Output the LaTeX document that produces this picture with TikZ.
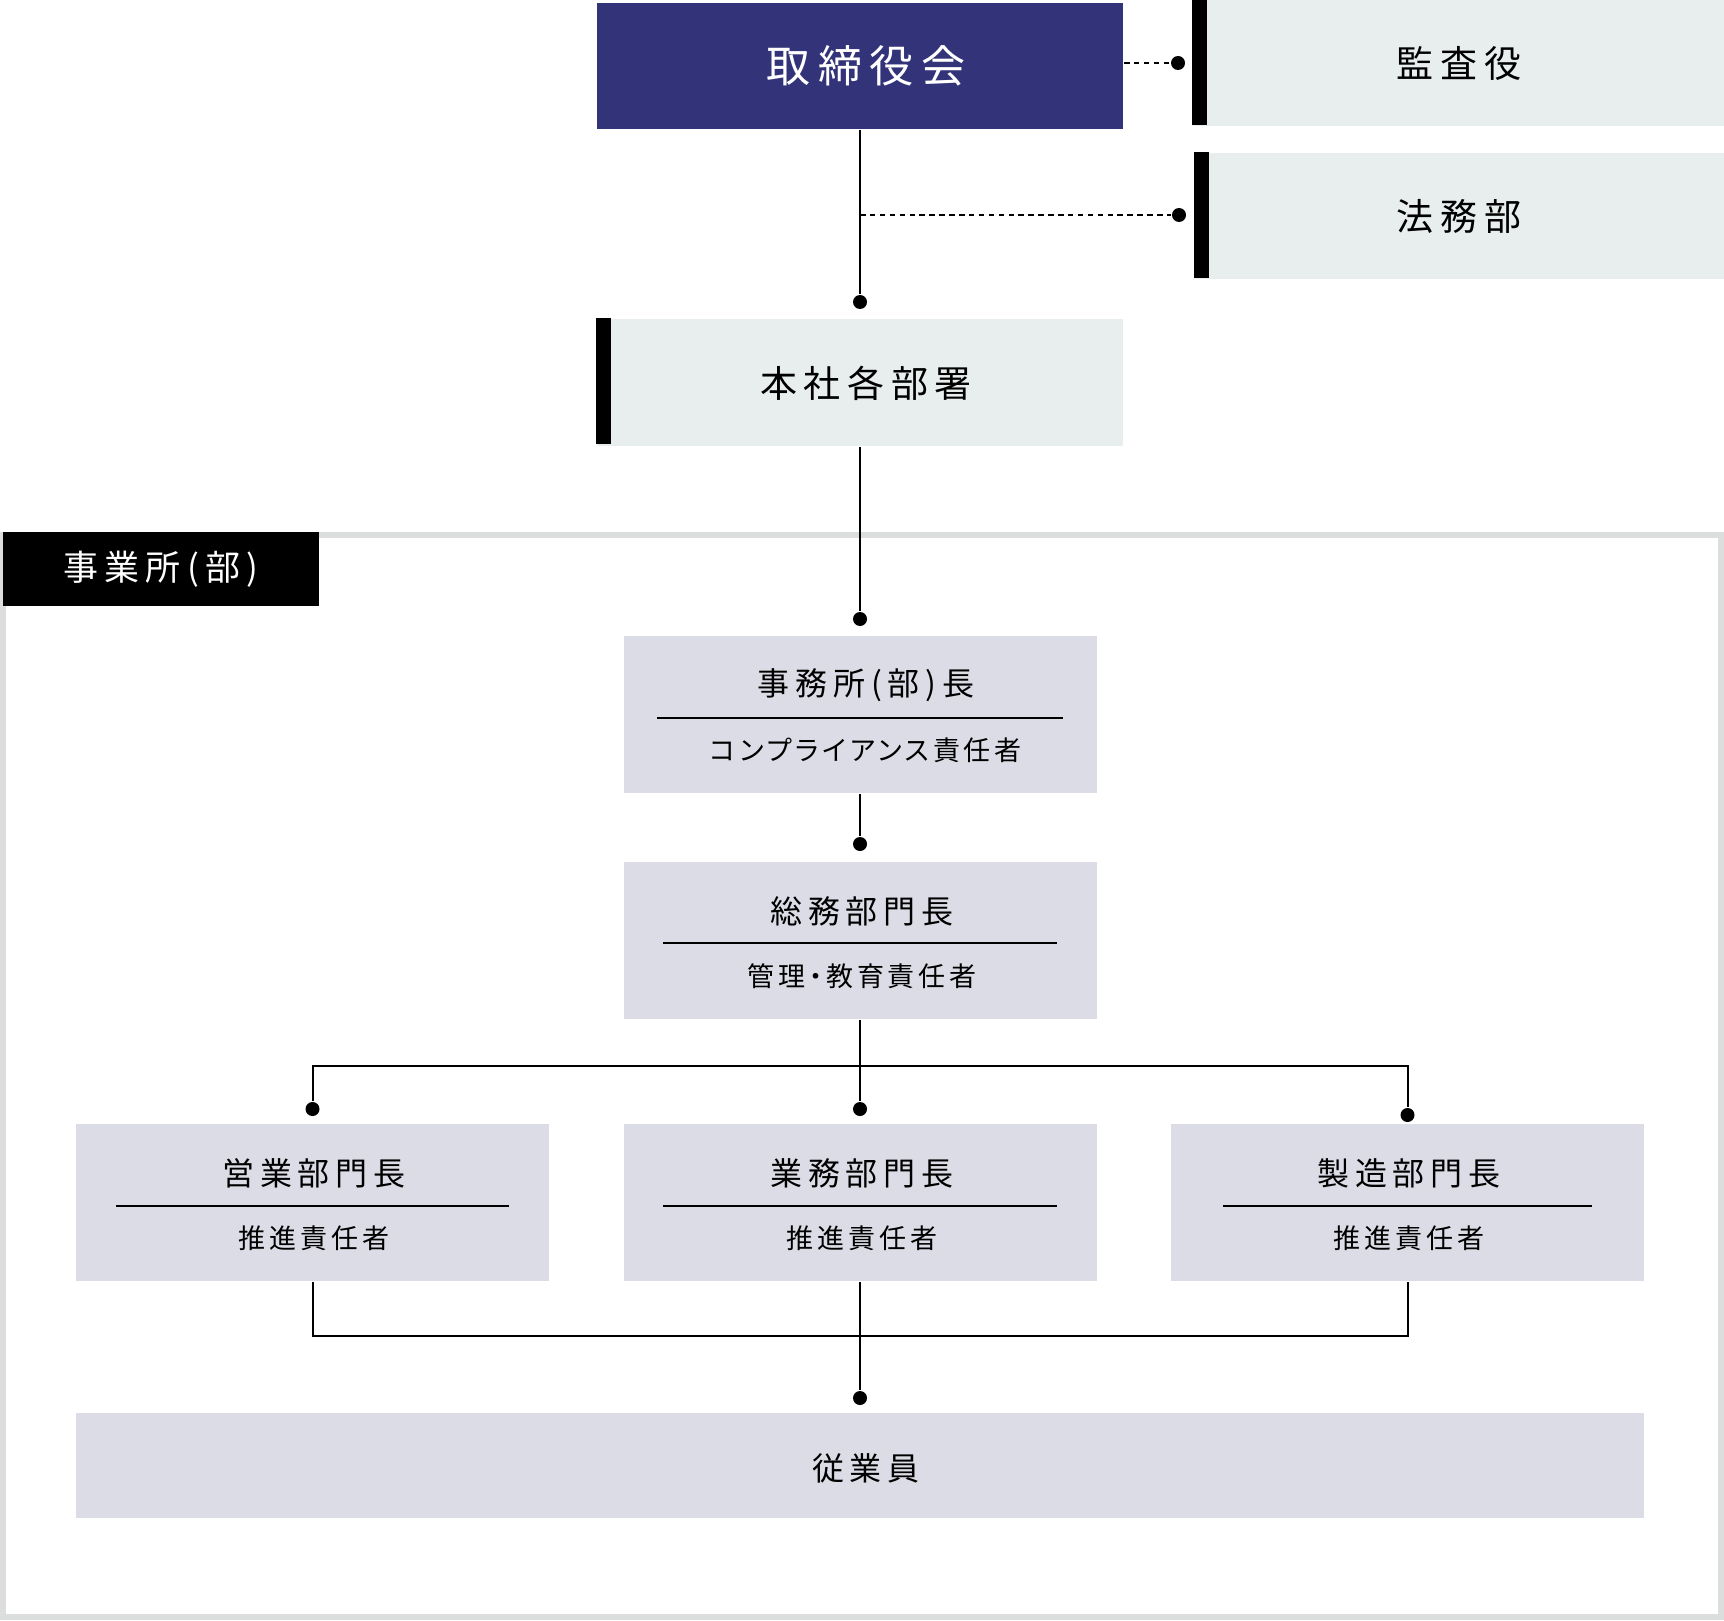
\documentclass[tikz,border=0pt]{standalone}
\usepackage{fontspec}
\newfontfamily\jp[LetterSpace=18,RawFeature=+palt]{Noto Sans CJK JP}
\newfontfamily\jpsub[LetterSpace=14,RawFeature=+palt]{Noto Sans CJK JP}
\usepackage{xcolor}
\usepackage{tikz}
\definecolor{navy}{HTML}{33337A}
\definecolor{palegray}{HTML}{E8EDED}
\definecolor{lilac}{HTML}{DCDCE6}
\definecolor{framegray}{HTML}{DCDEDD}

\begin{document}
\begin{tikzpicture}[x=0.5pt, y=-0.5pt, line width=1pt,
  board/.style={fill=navy, text=white, inner sep=0pt, minimum width=263pt, minimum height=63pt},
  side/.style={fill=palegray, inner sep=0pt, minimum width=265.5pt, minimum height=63pt},
  tag/.style={fill=black, text=white, inner sep=0pt, minimum width=158pt, minimum height=37pt, font=\jp\fontsize{17.5pt}{21pt}\selectfont},
  unit/.style={fill=lilac, inner sep=0pt, minimum width=236.5pt, minimum height=78.5pt},
  title/.style={inner sep=0pt, font=\jp\fontsize{16pt}{19pt}\selectfont},
  big/.style={inner sep=0pt, font=\jp\fontsize{22pt}{26pt}\selectfont},
  mid/.style={inner sep=0pt, font=\jp\fontsize{18.5pt}{22pt}\selectfont},
  sub/.style={inner sep=0pt, font=\jpsub\fontsize{13.5pt}{16pt}\selectfont},
  dot/.style={circle, fill=black, inner sep=0pt, minimum size=7pt},
  dashlink/.style={dash pattern=on 2.75pt off 2.2pt}]
\useasboundingbox (0,0) rectangle (1724,1621);

% top
\node[board] (board) at (860,66) {};
\node[big, text=white] (boardt) at (866,66) {取締役会};
\node[side] (kansa) at (1458.5,63) {};
\node[mid] (kansat) at (1459,63) {監査役};
\node[side, minimum width=264.5pt] (houmu) at (1459.5,216) {};
\node[mid] (houmut) at (1459,216) {法務部};
\node[side, minimum width=263pt] (honsha) at (860,382.5) {};
\node[mid] (honshat) at (866,383) {本社各部署};
\fill (kansa.north west) rectangle ++(15,126);
\fill (houmu.north west) rectangle ++(15,126);
\fill (honsha.north west) rectangle ++(15,125);

\node[dot] (dk) at (1178,63) {};
\node[dot] (dh) at (1179,215) {};
\node[dot] (d1) at (860,302) {};
\draw[dashlink] (board.east |- dk) -- (dk);
\draw (board) -- (d1);
\draw[dashlink] (d1 |- dh) -- (dh);

% office frame
\draw[framegray, line width=3pt] (3,535) rectangle (1721,1617);
\node[tag] (office) at (161,569) {事業所(部)};

\node[unit] (chief) at (860,714.5) {};
\node[title] (chieft) at (866,685) {事務所(部)長};
\node[sub] (chiefs) at (866,750) {コンプライアンス責任者};
\draw (657,718) -- (1063,718);

\node[unit] (soumu) at (860,940.5) {};
\node[title] (soumut) at (862,911) {総務部門長};
\node[sub] (soumus) at (862,976) {管理・教育責任者};
\draw (663,943) -- (1057,943);

\node[unit] (sales) at (312.5,1202.5) {};
\node[title] (salest) at (314,1173) {営業部門長};
\node[sub] (saless) at (314,1238) {推進責任者};
\draw (116,1206) -- (509,1206);

\node[unit] (ops) at (860,1202.5) {};
\node[title] (opst) at (862,1173) {業務部門長};
\node[sub] (opss) at (862,1238) {推進責任者};
\draw (663,1206) -- (1057,1206);

\node[unit] (maker) at (1407.5,1202.5) {};
\node[title] (makert) at (1409,1173) {製造部門長};
\node[sub] (makers) at (1409,1238) {推進責任者};
\draw (1223,1206) -- (1592,1206);

\node[unit, minimum width=784pt, minimum height=52.5pt] (staff) at (860,1465.5) {};
\node[title] (stafft) at (866,1468) {従業員};

% connectors
\node[dot] (d2) at (860,619) {};
\node[dot] (d3) at (860,844) {};
\node[dot] (ds) at (312.5,1109) {};
\node[dot] (dg) at (860,1109) {};
\node[dot] (dz) at (1407.5,1115) {};
\node[dot] (de) at (860,1398) {};
\coordinate (bus) at (860,1066);
\coordinate (join) at (860,1336);
\draw (honsha) -- (d2);
\draw (chief) -- (d3);
\draw (soumu) -- (bus);
\draw (ds) |- (bus) -| (dz);
\draw (bus) -- (dg);
\draw (sales) |- (join) -| (maker);
\draw (ops) -- (de);
\end{tikzpicture}
\end{document}
